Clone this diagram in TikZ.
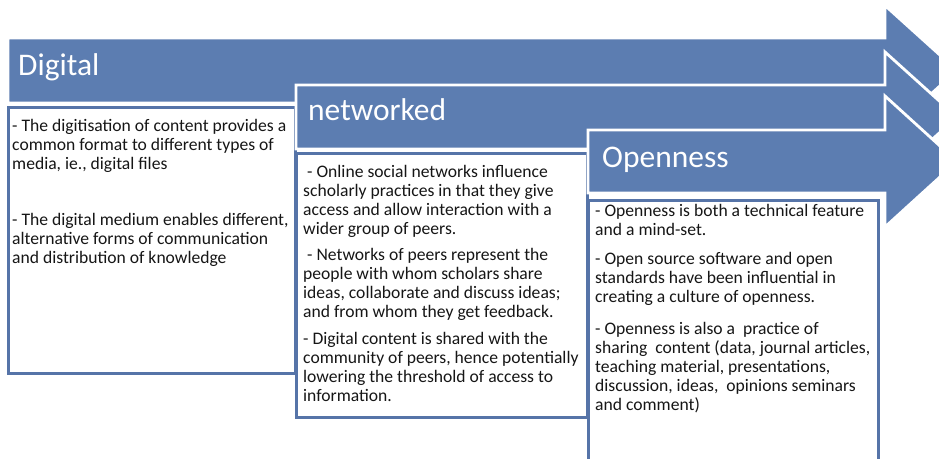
\documentclass[tikz,border=0pt]{standalone}
\usepackage{fontspec}
\setmainfont{Carlito}
\definecolor{arrowblue}{RGB}{92,125,177}
\definecolor{boxblue}{RGB}{86,116,168}
\definecolor{textgray}{RGB}{22,22,22}
\tikzset{
	stagearrow/.style={fill=arrowblue, draw=white, line width=2.8pt, line join=miter},
	stagebox/.style={fill=white, draw=boxblue, line width=3pt},
	stagetitle/.style={anchor=base west, inner sep=0pt, text=white, font=\fontsize{31.5}{36}\selectfont},
	stagetext/.style={anchor=north west, inner sep=0pt, align=left, text=textgray, font=\fontsize{17.6}{19}\selectfont}
}
\begin{document}
\begin{tikzpicture}[x=1pt, y=-1pt]
		\path[use as bounding box, clip] (0,0) rectangle (939,458);
		
		% digital
		\draw[stagearrow] (8,38) -- (885,38) -- (885,5.5) -- (957,70.5) -- (885,135.5) -- (885,103) -- (8,103) -- cycle;
		\node[stagetitle] (digital) at (18,75) {Digital};
		\draw[stagebox] (8,107) rectangle (295,373);
		\node[stagetext] (digitext) at (12,119) {- The digitisation of content provides a\\
			common format to different types of\\
			media, ie., digital files\\[37pt]
			- The digital medium enables different,\\
			alternative forms of communication\\
			and distribution of knowledge};
		
		% networked
		\draw[stagearrow] (296,85) -- (885,85) -- (885,52) -- (957,117) -- (885,182) -- (885,149) -- (296,149) -- cycle;
		\node[stagetitle] (networked) at (308,120) {networked};
		\draw[stagebox] (296,153) rectangle (587,417);
		\node[stagetext] (nettext) at (303,165) {\hspace{4pt}- Online social networks influence\\
			scholarly practices in that they give\\
			access and allow interaction with a\\
			wider group of peers.\\[7pt]
			\hspace{4pt}- Networks of peers represent the\\
			people with whom scholars share\\
			ideas, collaborate and discuss ideas;\\
			and from whom they get feedback.\\[8pt]
			- Digital content is shared with the\\
			community of peers, hence potentially\\
			lowering the threshold of access to\\
			information.};
		
		% openness
		\draw[stagearrow] (588,130) -- (885,130) -- (885,96) -- (957,161.5) -- (885,227) -- (885,193) -- (588,193) -- cycle;
		\node[stagetitle] (openness) at (602,167) {Openness};
		\draw[stagebox] (588,200) rectangle (878,475);
		\node[stagetext] (opentext) at (595,204) {- Openness is both a technical feature\\
			and a mind-set.\\[10pt]
			- Open source software and open\\
			standards have been influential in\\
			creating a culture of openness.\\[13pt]
			- Openness is also a\ \ practice of\\
			sharing\ \ content (data, journal articles,\\
			teaching material, presentations,\\
			discussion, ideas,\ \ opinions seminars\\
			and comment)};
	\end{tikzpicture}
\end{document}
